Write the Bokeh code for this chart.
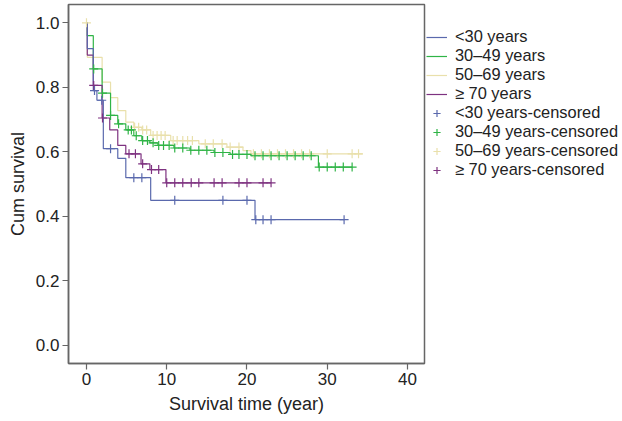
import numpy as np
from bokeh.plotting import figure
from bokeh.models import Legend, LegendItem, FixedTicker, Range1d, NumeralTickFormatter
from bokeh.embed import file_html
from bokeh.resources import INLINE

# ---- data ----
blue_t = [0, 0.1, 0.85, 1.3, 2.1, 3.9, 4.9, 8.0, 21.0]
blue_s = [1.0, 0.92, 0.79, 0.76, 0.61, 0.58, 0.52, 0.45, 0.39]
blue_c = [1.0, 1.9, 3.0, 5.9, 6.9, 11.0, 17.0, 20.0, 21.1, 22.0, 23.0, 32.1]
blue_end = 32.1

green_t = [0, 0.1, 0.85, 1.95, 3.0, 3.9, 4.9, 5.9, 6.9, 7.9, 8.9, 10.9, 12.9, 15.9, 17.9, 20.5, 28.9]
green_s = [1.0, 0.96, 0.857, 0.782, 0.713, 0.687, 0.668, 0.65, 0.635, 0.628, 0.62, 0.612, 0.605, 0.598, 0.592, 0.588, 0.553]
green_c = [0.9, 2.0, 3.0, 4.0, 5.2, 5.6, 6.2, 7.0, 7.6, 8.3, 9.0, 9.6, 10.3, 11.0, 12.0, 13.0, 14.0,
           15.0, 16.0, 17.0, 18.2, 19.0, 20.0, 21.0, 22.0, 23.0, 24.0, 25.0, 26.0, 27.0, 28.0,
           29.0, 30.0, 31.0, 32.0, 33.1]
green_end = 33.1

tan_t = [0, 0.1, 1.95, 3.0, 3.9, 4.9, 5.9, 6.9, 8.0, 10.5, 14.0, 17.5, 19.5, 20.5]
tan_s = [1.0, 0.893, 0.816, 0.768, 0.728, 0.692, 0.676, 0.668, 0.651, 0.635, 0.625, 0.615, 0.604, 0.594]
tan_c = [0.0, 6.0, 6.5, 7.0, 7.5, 8.3, 8.8, 9.3, 9.8, 10.8, 11.3, 12.0, 12.6, 13.2, 14.8, 15.8, 16.9,
         17.9, 19.0, 20.8, 21.8, 22.8, 23.8, 24.8, 25.8, 26.8, 27.8, 30.0, 33.1, 33.9]
tan_end = 34.4

purple_t = [0, 0.1, 0.85, 1.95, 2.9, 3.9, 4.9, 6.8, 7.9, 9.9]
purple_s = [1.0, 0.90, 0.806, 0.705, 0.668, 0.62, 0.594, 0.563, 0.545, 0.504]
purple_c = [0.9, 2.0, 5.3, 6.1, 7.0, 8.1, 9.0, 10.0, 11.0, 12.0, 13.05, 14.0, 15.9, 16.9, 19.0, 20.0, 22.0, 23.0]
purple_end = 23.0

labels = ["<30 years", "30\u201349 years", "50\u201369 years", "\u2265 70 years"]
colors = ["#5a69ad", "#2fb446", "#e9e0ab", "#7e3280"]

groups = [
    (blue_t, blue_s, blue_c, blue_end),
    (green_t, green_s, green_c, green_end),
    (tan_t, tan_s, tan_c, tan_end),
    (purple_t, purple_s, purple_c, purple_end),
]

FONT = "Liberation Sans"

p = figure(frame_width=356, frame_height=359, output_backend="svg", toolbar_location=None,
           x_range=Range1d(-2.24, 42.12), y_range=Range1d(-0.0558, 1.0567),
           min_border_left=68, min_border_right=0, min_border_top=4, min_border_bottom=58)

p.xgrid.visible = False
p.ygrid.visible = False
p.outline_line_color = "#666666"
p.outline_line_width = 1.5

line_r = [None] * 4
cens_r = [None] * 4
draw_order = [2, 1, 3, 0]
for i in draw_order:
    t, s, c, end = groups[i]
    xs = list(t) + [end]
    ys = list(s) + [s[-1]]
    line_r[i] = p.step(xs, ys, mode="after", line_color=colors[i], line_width=1.2)
for i in draw_order:
    t, s, c, end = groups[i]
    idx = np.searchsorted(np.array(t), np.array(c), side="right") - 1
    cy = np.array(s)[idx]
    cens_r[i] = p.scatter(c, cy, marker="cross", size=9, line_color=colors[i], line_width=1.2)

items = [LegendItem(label=labels[i], renderers=[line_r[i]]) for i in range(4)]
items += [LegendItem(label=labels[i] + "-censored", renderers=[cens_r[i]]) for i in range(4)]
legend = Legend(items=items, location=(2, 184), margin=0, padding=0, spacing=0,
                glyph_width=21, glyph_height=18, label_height=18, label_standoff=8,
                label_text_font=FONT, label_text_font_size="16.4px", label_text_color="#222222",
                border_line_color=None, background_fill_alpha=0)
p.add_layout(legend, "right")

for ax in (p.xaxis[0], p.yaxis[0]):
    ax.axis_line_color = "#666666"
    ax.axis_line_width = 1.5
    ax.major_tick_line_color = "#666666"
    ax.major_tick_line_width = 1.2
    ax.major_tick_out = 6
    ax.major_tick_in = 0
    ax.minor_tick_line_color = None
    ax.major_label_text_font = FONT
    ax.major_label_text_font_size = "17px"
    ax.major_label_text_color = "#222222"
    ax.axis_label_text_font = FONT
    ax.axis_label_text_font_size = "18px"
    ax.axis_label_text_font_style = "normal"
    ax.axis_label_text_color = "#222222"

p.xaxis.ticker = FixedTicker(ticks=[0, 10, 20, 30, 40])
p.yaxis.ticker = FixedTicker(ticks=[0.0, 0.2, 0.4, 0.6, 0.8, 1.0])
p.yaxis.formatter = NumeralTickFormatter(format="0.0")
p.xaxis.axis_label = "Survival time (year)"
p.yaxis.axis_label = "Cum survival"
p.xaxis.major_label_standoff = 3
p.yaxis.major_label_standoff = 3
p.xaxis.axis_label_standoff = 6
p.yaxis.axis_label_standoff = 5

html = file_html(p, INLINE)
html = html.replace("<head>", "<head><style>html,body{margin:0;padding:0;overflow:hidden;}</style>", 1)
open("out.html", "w").write(html)
